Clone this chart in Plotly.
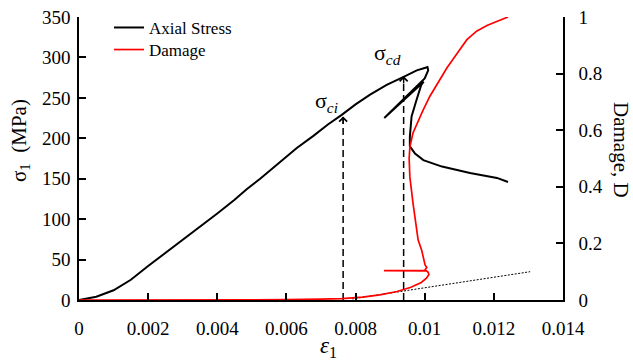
import plotly.graph_objects as go

# Axial stress curve (strain, MPa), including the post-peak loop
stress_strain = [0, 0.0005, 0.001, 0.0015, 0.002, 0.0025, 0.003, 0.0035, 0.004, 0.0045,
                 0.00485, 0.00524, 0.00582, 0.0063, 0.00678, 0.0072, 0.0076, 0.0080,
                 0.00842, 0.0089, 0.00939, 0.00977, 0.0100, 0.01008, 0.0101, 0.0100,
                 0.00883, 0.00997, 0.0099, 0.00976, 0.00962, 0.00957, 0.00957, 0.00972,
                 0.00996, 0.0105, 0.01131, 0.01209, 0.01241]
stress_mpa = [0, 4, 12, 25, 42, 58, 75, 91, 107, 124,
              137, 150, 171, 188, 203, 217, 229, 242,
              254, 266, 276, 284, 287, 288, 284, 274,
              225, 270, 266, 247, 227, 202, 190, 181,
              173, 165, 157, 151, 146]

# Damage variable D against strain
damage_strain = [0, 0.005, 0.006, 0.007, 0.0076, 0.0082, 0.0087, 0.0092, 0.0096, 0.0099,
                 0.01005, 0.01012, 0.0101, 0.01005, 0.00882, 0.0100, 0.01006, 0.01001,
                 0.00991, 0.00981, 0.00966, 0.00957, 0.00955, 0.00957, 0.00966, 0.0098,
                 0.00995, 0.01015, 0.0104, 0.01064, 0.01093, 0.01122, 0.0115, 0.0118,
                 0.0121, 0.01241]
damage_d = [0, 0, 0.001, 0.003, 0.005, 0.010, 0.018, 0.030, 0.045, 0.062,
            0.077, 0.090, 0.098, 0.103, 0.104, 0.105, 0.115, 0.124,
            0.177, 0.212, 0.343, 0.435, 0.50, 0.54, 0.59, 0.63,
            0.67, 0.72, 0.77, 0.82, 0.87, 0.92, 0.95, 0.97,
            0.985, 1.0]

# Linear reference line on the damage axis
fit_strain = [0.0079, 0.01305]
fit_d = [0.004, 0.10]

# Crack initiation / crack damage thresholds
ci_strain, ci_stress = 0.00764, 227
cd_strain, cd_stress = 0.00939, 277

x_ticks = [0, 0.002, 0.004, 0.006, 0.008, 0.01, 0.012, 0.014]
x_labels = ["0", "0.002", "0.004", "0.006", "0.008", "0.01", "0.012", "0.014"]
y_ticks = [0, 50, 100, 150, 200, 250, 300, 350]
y2_ticks = [0, 0.2, 0.4, 0.6, 0.8, 1]
y2_labels = ["0", "0.2", "0.4", "0.6", "0.8", "1"]

FONT = "Liberation Serif"

fig = go.Figure()

fig.add_trace(go.Scatter(x=stress_strain, y=stress_mpa, mode="lines", name="Axial Stress",
                         line=dict(color="black", width=2), legend="legend"))

for sx, sy in [(ci_strain, ci_stress), (cd_strain, cd_stress)]:
    fig.add_trace(go.Scatter(x=[sx, sx], y=[0, sy], mode="lines", showlegend=False,
                             line=dict(color="black", width=1.5, dash="7px,4px")))

fig.add_trace(go.Scatter(x=fit_strain, y=fit_d, mode="lines", yaxis="y2", showlegend=False,
                         line=dict(color="black", width=1, dash="2px,1.5px")))
fig.add_trace(go.Scatter(x=damage_strain, y=damage_d, mode="lines", name="Damage", yaxis="y2",
                         line=dict(color="red", width=1.7), legend="legend2"))

# Arrow heads on the threshold lines
for sx, sy in [(ci_strain, ci_stress), (cd_strain, cd_stress)]:
    fig.add_annotation(x=sx, y=sy, xref="x", yref="y", ax=0, ay=9, text="",
                       showarrow=True, arrowhead=4, arrowsize=1.1, arrowwidth=1.4,
                       arrowcolor="black")

fig.add_annotation(x=0.00717, y=245, xref="x", yref="y", showarrow=False,
                   text="σ<sub><i>ci</i></sub>", font=dict(family=FONT, size=22, color="black"))
fig.add_annotation(x=0.00891, y=304, xref="x", yref="y", showarrow=False,
                   text="σ<sub><i>cd</i></sub>", font=dict(family=FONT, size=22, color="black"))

# Axis titles
fig.add_annotation(x=0.5, xref="paper", xshift=7, y=0, yref="paper", yshift=-47,
                   xanchor="center", yanchor="middle", text="<i>ε</i><sub>1</sub>",
                   showarrow=False, font=dict(family=FONT, size=23, color="black"))
fig.add_annotation(x=0, xanchor="center", xref="paper", xshift=-59, y=0.562, yref="paper",
                   yanchor="middle", text="σ<sub>1</sub>&nbsp; (MPa)", textangle=-90,
                   showarrow=False, font=dict(family=FONT, size=21, color="black"))
fig.add_annotation(x=1, xanchor="center", xref="paper", xshift=58, y=0.53, yref="paper",
                   yanchor="middle", text="Damage, D", textangle=90, showarrow=False,
                   font=dict(family=FONT, size=21, color="black"))

axis_common = dict(showgrid=False, zeroline=False, showline=True, linecolor="black",
                   linewidth=1.5, ticks="inside", ticklen=7, tickwidth=1.5, tickcolor="black",
                   automargin=False,
                   tickfont=dict(family=FONT, size=19, color="black"))

fig.update_layout(
    width=633, height=362,
    margin=dict(l=79, r=70, t=17, b=62, autoexpand=False),
    paper_bgcolor="white", plot_bgcolor="white",
    font=dict(family=FONT, color="black"),
    xaxis=dict(range=[0, 0.014], tickvals=x_ticks, ticktext=x_labels,
               ticklabelstandoff=10, **axis_common),
    yaxis=dict(range=[0, 350], tickvals=y_ticks, ticklabelstandoff=3, **axis_common),
    yaxis2=dict(range=[0, 1], tickvals=y2_ticks, ticktext=y2_labels, overlaying="y", side="right",
                ticklabelstandoff=10, **axis_common),
    legend=dict(x=0.062, y=1.025, xanchor="left", yanchor="top", bgcolor="rgba(0,0,0,0)",
                font=dict(family=FONT, size=17, color="black")),
    legend2=dict(x=0.062, y=0.947, xanchor="left", yanchor="top", bgcolor="rgba(0,0,0,0)",
                 font=dict(family=FONT, size=17, color="black")),
)

fig.write_html("out.html")
